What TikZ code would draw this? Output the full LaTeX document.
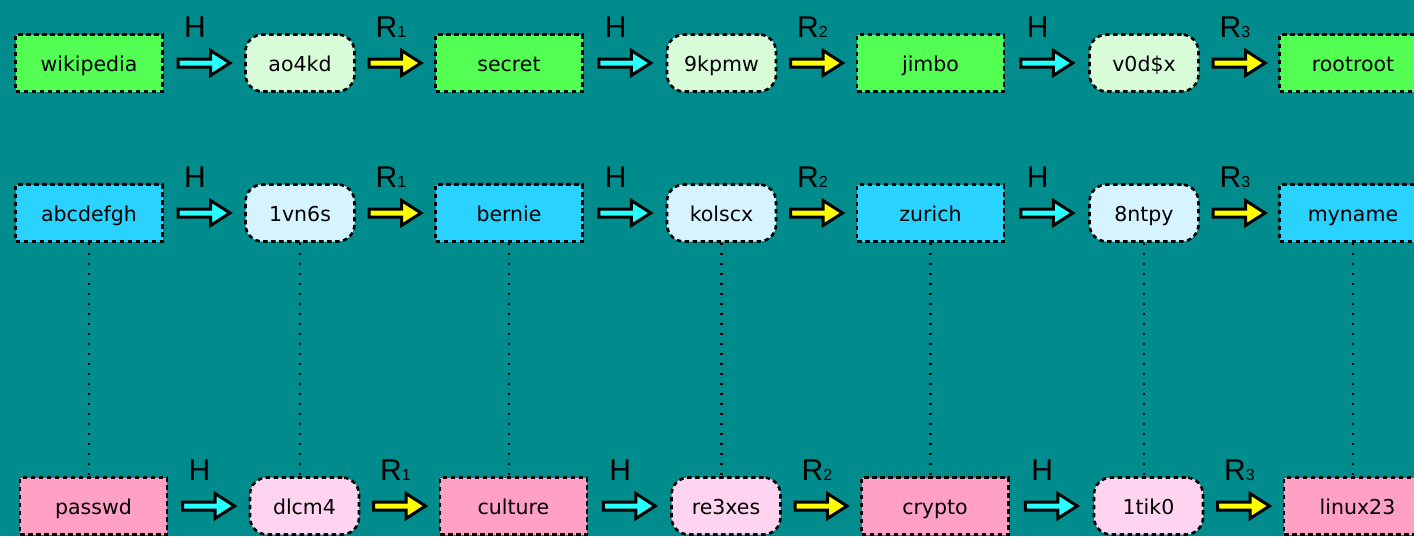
\documentclass[tikz,border=0pt]{standalone}
\usepackage{fontspec}
\newfontfamily\boxfont{DejaVu Sans}
\newfontfamily\lblfont{Liberation Sans}

\definecolor{bgteal}{RGB}{0,140,140}
\definecolor{plaingreen}{RGB}{82,255,82}
\definecolor{hashgreen}{RGB}{216,252,216}
\definecolor{plainblue}{RGB}{42,210,255}
\definecolor{hashblue}{RGB}{214,244,255}
\definecolor{plainpink}{RGB}{255,160,196}
\definecolor{hashpink}{RGB}{255,212,240}
\definecolor{hcyan}{RGB}{40,255,255}
\definecolor{ryellow}{RGB}{255,255,0}

\tikzset{
  box/.style={draw=black, line width=2.6pt, dash pattern=on 4.5pt off 3.5pt,
    minimum height=57pt, inner sep=0pt, text=black,
    text height=21pt, text depth=4pt,
    font=\boxfont\fontsize{20.5}{24}\selectfont},
  plainbox/.style={box, minimum width=147pt, fill=#1},
  hashbox/.style={box, minimum width=109pt, rounded corners=17pt, fill=#1},
  lbl/.style={anchor=base, yshift=26pt, inner sep=0pt, text=black,
    font=\lblfont\fontsize{30}{30}\selectfont},
  arrowline/.style={draw=black, line width=3pt, line join=miter},
  dotline/.style={draw=black, line width=2.4pt, dash pattern=on 2.4pt off 7.6pt},
  pics/blockarrow/.style={code={
    \draw[arrowline, fill=#1] (-26,4) -- (6.5,4) -- (6.5,12.5) -- (26,0)
      -- (6.5,-12.5) -- (6.5,-4) -- (-26,-4) -- cycle;}}
}

% block arrow with its label between two nodes
\newcommand\hop[5]{%
  \path (#1) -- coordinate[midway] (#1-#2) (#2);
  \pic at (#1-#2) {blockarrow=#3};
  \node[lbl, xshift=#5] at (#1-#2) {#4};
}
\newcommand\sub[1]{{\fontsize{16}{16}\selectfont #1}}

\begin{document}
\begin{tikzpicture}[x=1pt, y=1pt]
\useasboundingbox (0,0) rectangle (1414,-536);
\clip (0,0) rectangle (1414,-536);
\fill[bgteal] (0,0) rectangle (1414,-536);

% chain 1
\node[plainbox=plaingreen] (p11) at (89,-63)     {wikipedia};
\node[hashbox=hashgreen]   (h11) at (300,-63)    {ao4kd};
\node[plainbox=plaingreen] (p12) at (509,-63)    {secret};
\node[hashbox=hashgreen]   (h12) at (721.5,-63)  {9kpmw};
\node[plainbox=plaingreen] (p13) at (930.5,-63)  {jimbo};
\node[hashbox=hashgreen]   (h13) at (1144,-63)   {v0d\$x};
\node[plainbox=plaingreen] (p14) at (1353,-63)   {rootroot};

% chain 2
\node[plainbox=plainblue] (p21) at (89,-213)     {abcdefgh};
\node[hashbox=hashblue]   (h21) at (300,-213)    {1vn6s};
\node[plainbox=plainblue] (p22) at (509,-213)    {bernie};
\node[hashbox=hashblue]   (h22) at (721.5,-213)  {kolscx};
\node[plainbox=plainblue] (p23) at (930.5,-213)  {zurich};
\node[hashbox=hashblue]   (h23) at (1144,-213)   {8ntpy};
\node[plainbox=plainblue] (p24) at (1353,-213)   {myname};

% chain 3
\node[plainbox=plainpink] (p31) at (93.5,-506)   {passwd};
\node[hashbox=hashpink]   (h31) at (304.5,-506)  {dlcm4};
\node[plainbox=plainpink] (p32) at (513.5,-506)  {culture};
\node[hashbox=hashpink]   (h32) at (726,-506)    {re3xes};
\node[plainbox=plainpink] (p33) at (935,-506)    {crypto};
\node[hashbox=hashpink]   (h33) at (1148.5,-506) {1tik0};
\node[plainbox=plainpink] (p34) at (1357.5,-506) {linux23};

% links between chains 2 and 3
\foreach \n in {p21,h21,p22,h22,p23,h23,p24}{
  \draw[dotline] (\n.south) -- (\n.south |- p31.north);
}

% hash and reduction steps
\foreach \r in {1,2,3}{
  \hop{p\r1}{h\r1}{hcyan}{H}{-9pt}
  \hop{h\r1}{p\r2}{ryellow}{R\sub{1}}{-4pt}
  \hop{p\r2}{h\r2}{hcyan}{H}{-9pt}
  \hop{h\r2}{p\r3}{ryellow}{R\sub{2}}{-4pt}
  \hop{p\r3}{h\r3}{hcyan}{H}{-9pt}
  \hop{h\r3}{p\r4}{ryellow}{R\sub{3}}{-4pt}
}
\end{tikzpicture}
\end{document}
